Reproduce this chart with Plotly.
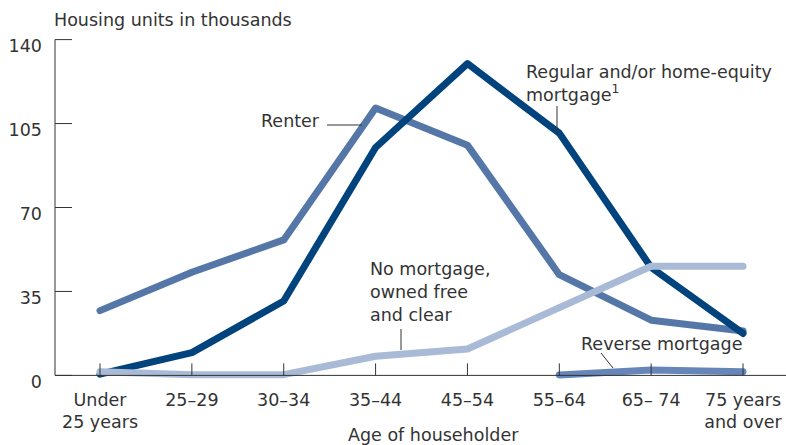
import plotly.graph_objects as go

categories = ["Under<br>25 years", "25–29", "30–34", "35–44", "45–54", "55–64", "65– 74", "75 years<br>and over"]
renter = [27, 43, 56.5, 111.5, 96, 42, 23, 18.5]
regular_mortgage = [0.5, 9.5, 31, 95, 130, 101, 45, 17.5]
no_mortgage = [1.5, 0.3, 0.3, 8, 11, 28, 45.5, 45.5]
reverse_mortgage = [None, None, None, None, None, 0.2, 2.3, 1.5]
y_ticks = [0, 35, 70, 105, 140]

W, H = 786, 445
L, R, T, B = 55, 0, 36, 66
PW, PH = W - L - R, H - T - B

def xp(px):
    return (px - L) / PW

def yp(py):
    return (H - B - py) / PH

x = list(range(len(categories)))
FONT = "DejaVu Sans"
TXT = "#333333"
FS = 17.5

fig = go.Figure()
series = [
    (renter, "Renter", "#5577a8"),
    (regular_mortgage, "Regular and/or home-equity mortgage", "#00437d"),
    (no_mortgage, "No mortgage, owned free and clear", "#a9bad6"),
    (reverse_mortgage, "Reverse mortgage", "#6686ba"),
]
for vals, name, col in series:
    fig.add_trace(go.Scatter(x=x, y=vals, mode="lines", name=name,
                             line=dict(color=col, width=7), showlegend=False,
                             hoverinfo="skip"))

shapes = []
# axis lines
shapes.append(dict(type="line", xref="paper", yref="y", x0=0, x1=0, y0=0, y1=140,
                   line=dict(color=TXT, width=1)))
shapes.append(dict(type="line", xref="paper", yref="y", x0=0, x1=1, y0=0, y1=0,
                   line=dict(color=TXT, width=1)))
for v in y_ticks:
    shapes.append(dict(type="line", xref="paper", yref="y", x0=0, x1=17 / PW, y0=v, y1=v,
                       line=dict(color=TXT, width=1)))
for i in x:
    shapes.append(dict(type="line", xref="x", yref="y", x0=i, x1=i, y0=0, y1=5,
                       line=dict(color=TXT, width=1)))
# leader lines
for (a, b, c, d) in [(327, 125, 362, 125), (557, 106, 557, 135), (401, 329, 401, 350), (601, 353, 613, 368)]:
    shapes.append(dict(type="line", xref="paper", yref="paper", x0=xp(a), y0=yp(b), x1=xp(c), y1=yp(d),
                       line=dict(color=TXT, width=1)))

def ann(text, px, py, xanchor="left", align="left"):
    return dict(text=text, xref="paper", yref="paper", x=xp(px), y=yp(py), xanchor=xanchor,
                yanchor="middle", align=align, showarrow=False,
                font=dict(family=FONT, size=FS, color=TXT))

annotations = [
    ann("Housing units in thousands", 52, 20),
    ann("Renter", 322, 121, xanchor="right"),
    ann("Regular and/or home-equity<br>mortgage<sup>1</sup>", 524, 84),
    ann("No mortgage,<br>owned free<br>and clear", 368, 292),
    ann("Reverse mortgage", 579, 344),
    ann("Age of householder", 433, 435, xanchor="center", align="center"),
]

fig.update_layout(
    width=W, height=H,
    margin=dict(l=L, r=R, t=T, b=B, pad=0, autoexpand=False),
    paper_bgcolor="white", plot_bgcolor="white",
    shapes=shapes, annotations=annotations,
    font=dict(family=FONT, size=FS, color=TXT),
    xaxis=dict(range=[-0.49, 7.468], tickvals=x, ticktext=categories, showgrid=False,
               zeroline=False, showline=False, ticks="", ticklabelstandoff=8, automargin=False,
               tickfont=dict(family=FONT, size=FS, color=TXT)),
    yaxis=dict(range=[-1.5, 141.5], tickvals=y_ticks, showgrid=False, zeroline=False,
               showline=False, ticks="", ticklabelstandoff=12, ticklabelshift=6, automargin=False,
               tickfont=dict(family=FONT, size=FS, color=TXT)),
)

post = (
    "document.body.style.margin='0px';document.body.style.overflow='hidden';"
    "document.querySelectorAll('.scatterlayer path.js-line').forEach(function(p){"
    "p.style.strokeLinejoin='round';p.style.strokeLinecap='round';});"
)
fig.write_html("out.html", post_script=post, config={"displayModeBar": False})
